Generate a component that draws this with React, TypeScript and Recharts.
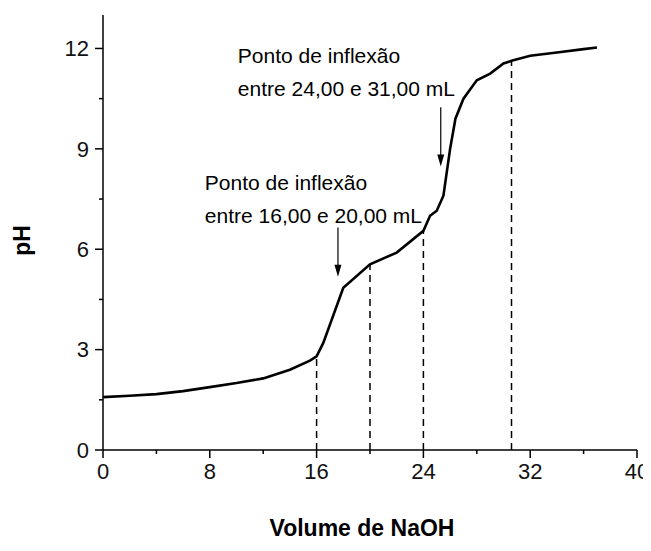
import { LineChart, Line, XAxis, YAxis, ReferenceLine, ReferenceDot } from 'recharts';

// titulação: volume de NaOH (mL) x pH
const volume = [0, 2, 4, 6, 8, 10, 12, 14, 15.5, 16, 16.5, 18, 20, 22, 24, 24.5, 25, 25.5, 26, 26.4, 27, 28, 29, 30, 30.6, 32, 34, 36, 37];
const ph = [1.58, 1.62, 1.67, 1.76, 1.88, 2.0, 2.14, 2.4, 2.67, 2.8, 3.2, 4.85, 5.55, 5.9, 6.55, 7.0, 7.15, 7.6, 9.0, 9.9, 10.5, 11.05, 11.25, 11.55, 11.63, 11.78, 11.88, 11.98, 12.03];

const xTicks = [0, 4, 8, 12, 16, 20, 24, 28, 32, 36, 40];
const yTicks = [0, 1.5, 3, 4.5, 6, 7.5, 9, 10.5, 12];
const xMajor = [0, 8, 16, 24, 32, 40];
const yMajor = [0, 3, 6, 9, 12];

// linhas tracejadas até a curva
const dropVolumes = [16, 20, 24, 30.6];

const noteText = [
  ['Ponto de inflexão', 'entre 16,00 e 20,00 mL'],
  ['Ponto de inflexão', 'entre 24,00 e 31,00 mL'],
];
const noteAt = [
  { x: 7.63, y: 7.78 },
  { x: 10.1, y: 11.56 },
];
const arrows = [
  { x: 17.6, from: 6.65, to: 5.18 },
  { x: 25.3, from: 10.24, to: 8.47 },
];

const data = volume.map((v, i) => ({ v, ph: ph[i] }));
const phAt = (v: number) => ph[volume.indexOf(v)];

const FONT = '"Liberation Sans", Arial, sans-serif';

function XTick({ x, y, payload }: any) {
  const major = xMajor.includes(payload.value);
  const len = major ? 8 : 4;
  return (
    <g>
      <line x1={x} y1={y} x2={x} y2={y + len} stroke="#000" strokeWidth={1.5} />
      {major && (
        <text x={x} y={y + 13} dy="0.71em" textAnchor="middle" fontSize={22} fontFamily={FONT} fill="#111">
          {payload.value}
        </text>
      )}
    </g>
  );
}

function YTick({ x, y, payload }: any) {
  const major = yMajor.includes(payload.value);
  const len = major ? 8 : 4;
  return (
    <g>
      <line x1={x} y1={y} x2={x - len} y2={y} stroke="#000" strokeWidth={1.5} />
      {major && (
        <text x={x - 14} y={y} dy="0.355em" textAnchor="end" fontSize={22} fontFamily={FONT} fill="#111">
          {payload.value}
        </text>
      )}
    </g>
  );
}

function Arrow({ x1, y1, x2, y2 }: any) {
  return (
    <g>
      <line x1={x1} y1={y1} x2={x2} y2={y2 - 8} stroke="#000" strokeWidth={1.2} />
      <polygon points={`${x2},${y2} ${x2 - 3.5},${y2 - 12} ${x2 + 3.5},${y2 - 12}`} fill="#000" />
    </g>
  );
}

export default function App() {
  return (
    <LineChart width={643} height={535} data={data} margin={{ top: 7, right: 14, left: 0, bottom: 0 }}>
      <XAxis
        dataKey="v"
        type="number"
        domain={[0, 40]}
        ticks={xTicks}
        interval={0}
        tickSize={0}
        tickMargin={0}
        tickLine={false}
        tick={<XTick />}
        height={93}
        axisLine={{ stroke: '#000', strokeWidth: 1.5 }}
        label={{
          content: ({ viewBox }: any) => (
            <text
              x={viewBox.x + viewBox.width / 2 - 8}
              y={viewBox.y + 86}
              textAnchor="middle"
              fontSize={23}
              fontWeight="bold"
              fontFamily={FONT}
              fill="#000"
            >
              Volume de NaOH
            </text>
          ),
        }}
      />
      <YAxis
        type="number"
        domain={[0, 13]}
        ticks={yTicks}
        interval={0}
        tickSize={0}
        tickMargin={0}
        tickLine={false}
        tick={<YTick />}
        width={95}
        axisLine={{ stroke: '#000', strokeWidth: 1.5 }}
        label={{
          content: ({ viewBox }: any) => {
            const cx = viewBox.x + 13.5;
            const cy = viewBox.y + viewBox.height / 2 + 8;
            return (
              <text
                x={cx}
                y={cy}
                transform={`rotate(-90 ${cx} ${cy})`}
                dy="0.355em"
                textAnchor="middle"
                fontSize={23}
                fontWeight="bold"
                fontFamily={FONT}
                fill="#000"
              >
                pH
              </text>
            );
          },
        }}
      />
      {dropVolumes.map((v) => (
        <ReferenceLine
          key={v}
          segment={[{ x: v, y: 0 }, { x: v, y: phAt(v) }]}
          stroke="#000"
          strokeWidth={1.5}
          strokeDasharray="7 5"
        />
      ))}
      {arrows.map((a, i) => (
        <ReferenceLine
          key={'a' + i}
          segment={[{ x: a.x, y: a.from }, { x: a.x, y: a.to }]}
          shape={(p: any) => <Arrow {...p} />}
        />
      ))}
      {noteAt.map((n, i) => (
        <ReferenceDot
          key={'n' + i}
          x={n.x}
          y={n.y}
          r={0}
          shape={(p: any) => (
            <text x={p.cx} y={p.cy} fontSize={21} fontFamily={FONT} fill="#000">
              <tspan x={p.cx}>{noteText[i][0]}</tspan>
              <tspan x={p.cx} dy={33}>{noteText[i][1]}</tspan>
            </text>
          )}
        />
      ))}
      <Line
        type="linear"
        dataKey="ph"
        stroke="#000"
        strokeWidth={2.6}
        dot={false}
        isAnimationActive={false}
      />
    </LineChart>
  );
}
